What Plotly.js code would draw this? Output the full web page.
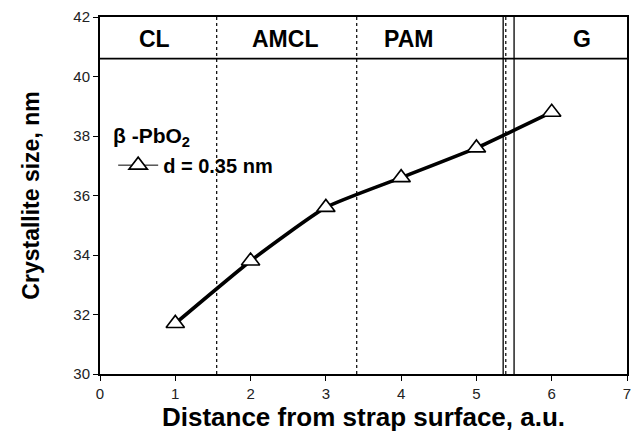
<!DOCTYPE html>
<html>
<head>
<meta charset="utf-8">
<script src="https://cdn.plot.ly/plotly-3.0.1.min.js"></script>
<style>
  html, body { margin: 0; padding: 0; background: #fff; }
  #chart { width: 632px; height: 438px; }
</style>
</head>
<body>
<div id="chart"></div>
<script>
// Crystallite size of beta-PbO2 vs. distance from the strap surface
const distance = [1, 2, 3, 4, 5, 6];
const crystalliteSize = [31.7, 33.8, 35.6, 36.6, 37.6, 38.8];

// Zone labels along the top band and the boundaries between zones
const zoneNames = ['CL', 'AMCL', 'PAM', 'G'];
const zoneLabelX = [0.73, 2.46, 4.1, 6.4];
const zoneLabelY = 41.25;
const dottedBounds = [1.55, 3.41, 5.39];
const solidBounds = [5.355, 5.50];
const bandFloor = 40.6;

const xTicks = [0, 1, 2, 3, 4, 5, 6, 7];
const yTicks = [30, 32, 34, 36, 38, 40, 42];

const FONT = 'Liberation Sans, Arial, sans-serif';

const markerStyle = {
  symbol: 'triangle-up', size: 16, color: '#fff',
  line: { width: 1.6, color: '#000' }
};

const traces = [
  {
    x: distance, y: crystalliteSize,
    mode: 'lines+markers',
    line: { color: '#000', width: 3.6, shape: 'spline', smoothing: 0.5 },
    marker: markerStyle,
    showlegend: false, hoverinfo: 'skip'
  },
  {
    // legend entry only
    x: [null], y: [null],
    mode: 'lines+markers',
    name: 'd = 0.35 nm',
    line: { color: '#000', width: 1 },
    marker: markerStyle,
    showlegend: true
  }
];

const shapes = [];
dottedBounds.forEach(v => shapes.push({
  type: 'line', xref: 'x', yref: 'y', x0: v, x1: v, y0: 30, y1: 42,
  line: { color: '#000', width: 1.2, dash: 'dot' }, layer: 'below'
}));
solidBounds.forEach(v => shapes.push({
  type: 'line', xref: 'x', yref: 'y', x0: v, x1: v, y0: 30, y1: 42,
  line: { color: '#000', width: 1.3 }, layer: 'below'
}));
shapes.push({
  type: 'line', xref: 'x', yref: 'y', x0: 0, x1: 7, y0: bandFloor, y1: bandFloor,
  line: { color: '#000', width: 1.6 }
});

const annotations = zoneNames.map((n, i) => ({
  x: zoneLabelX[i], y: zoneLabelY, xref: 'x', yref: 'y',
  text: '<b>' + n + '</b>', showarrow: false,
  font: { family: FONT, size: 23, color: '#000' }
}));
// legend heading
annotations.push({
  x: 0.02, y: 0.665, xref: 'paper', yref: 'paper', xanchor: 'left', yanchor: 'middle',
  text: '<b>β -PbO<sub>2</sub></b>', showarrow: false,
  font: { family: FONT, size: 21, color: '#000' }
});

const layout = {
  width: 632, height: 438,
  margin: { l: 100, r: 5, t: 17, b: 64 },
  paper_bgcolor: '#fff', plot_bgcolor: '#fff',
  font: { family: FONT, color: '#000' },
  xaxis: {
    range: [0, 7], tickvals: xTicks, ticktext: xTicks.map(String),
    ticks: 'outside', ticklen: 5, tickcolor: '#000', tickwidth: 1,
    showline: true, linecolor: '#000', linewidth: 2, mirror: true,
    showgrid: false, zeroline: false,
    tickfont: { family: FONT, size: 15, color: '#222' },
    title: { text: '<b>Distance from strap surface, a.u.</b>', font: { family: FONT, size: 26, color: '#000' }, standoff: 3 }
  },
  yaxis: {
    range: [30, 42], tickvals: yTicks, ticktext: yTicks.map(String),
    ticks: 'outside', ticklen: 5, tickcolor: '#000', tickwidth: 1,
    showline: true, linecolor: '#000', linewidth: 2, mirror: true,
    showgrid: false, zeroline: false,
    tickfont: { family: FONT, size: 15, color: '#222' },
    title: { text: '<b>Crystallite size, nm</b>', font: { family: FONT, size: 23, color: '#000' }, standoff: 27 }
  },
  legend: {
    x: 0.025, y: 0.585, xanchor: 'left', yanchor: 'middle',
    bgcolor: 'rgba(0,0,0,0)', borderwidth: 0,
    font: { family: FONT, size: 20, color: '#000', weight: 'bold' },
    itemwidth: 40
  },
  shapes: shapes,
  annotations: annotations
};

Plotly.newPlot('chart', traces, layout, { displayModeBar: false, staticPlot: true });
</script>
</body>
</html>
